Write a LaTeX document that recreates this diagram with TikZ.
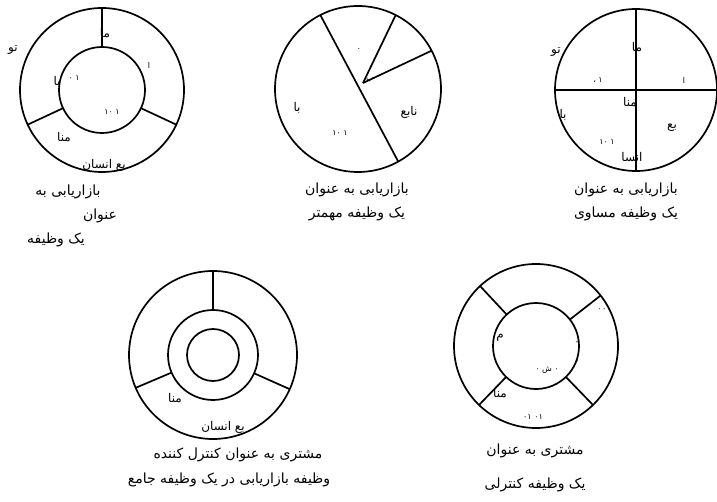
\documentclass[tikz,border=0pt]{standalone}
\usepackage{fontspec}
\newfontfamily\arabicfont[Script=Arabic]{DejaVu Sans}
\TeXXeTstate=1
\usetikzlibrary{positioning}
\usetikzlibrary{calc}
\newcommand{\fa}[1]{\beginR #1\endR}

\tikzset{
  wheel/.style={draw, line width=1.7pt},
  lbl/.style={inner sep=0pt, font=\arabicfont\fontsize{12}{13}\selectfont},
  bits/.style={inner sep=0pt, font=\arabicfont\fontsize{8}{9}\selectfont},
  caption/.style={inner sep=0pt, align=center, font=\arabicfont\fontsize{14}{24}\selectfont},
}

\begin{document}
\begin{tikzpicture}[x=1pt, y=1pt, line width=1.7pt]
    \useasboundingbox (0,0) rectangle (717,-502);

    % Centres of the five wheels
    \coordinate (c1) at (102,-90);
    \coordinate (c2) at (358,-89);
    \coordinate (c3) at (636,-90);
    \coordinate (c4) at (213,-355);
    \coordinate (c5) at (536,-346);

    % Wheel 1: ring with three parts
    \draw[wheel] (c1) circle[radius=82];
    \draw[wheel] (c1) circle[radius=43];
    \foreach \a in {90,-25,205} {
        \draw (c1) ++(\a:43) -- ++(\a:39);
    }
    \node[lbl] (t1) at (13,-50) {\fa{تو}};
    \node[lbl] (m1) at (105,-33) {\fa{ما}};
    \node[bits] (a1) at (149,-65) {\fa{ا}};
    \node[lbl] (b1) at (57,-82) {\fa{با}};
    \node[bits] (d1) at (74,-78) {\fa{١ ٠}};
    \node[bits] (e1) at (112,-112) {\fa{١ ١٠}};
    \node[lbl] (n1) at (64,-137) {\fa{منا}};
    \node[lbl] (s1) at (104,-165) {\fa{بع انسان}};
    \node[caption] (k1a) at (68,-192) {\fa{بازاریابی به}};
    \node[caption] (k1b) at (100,-216) {\fa{عنوان}};
    \node[caption] (k1c) at (56,-240) {\fa{یک وظیفه}};

    % Wheel 2: one big part
    \draw[wheel] (c2) circle[radius=83];
    \coordinate (h2) at (363,-83);
    \draw ($(c2)+(117:83)$) -- ($(c2)+(-61:83)$);
    \draw (h2) -- ($(c2)+(63:83)$);
    \draw (h2) -- ($(c2)+(27.5:83)$);
    \node[lbl] (b2) at (297,-108) {\fa{با}};
    \node[bits] (e2) at (340,-133) {\fa{١ ١٠}};
    \node[lbl] (n2) at (409,-112) {\fa{نابع}};
    \node[bits] (a2) at (359,-49) {.};
    \node[bits] (d2) at (370,-80) {\fa{ب}};
    \node[caption] (k2) at (357,-202) {\fa{بازاریابی به عنوان}\\\fa{یک وظیفه مهمتر}};

    % Wheel 3: four equal parts
    \draw[wheel] (c3) circle[radius=81];
    \draw ($(c3)+(180:81)$) -- ($(c3)+(0:81)$);
    \draw ($(c3)+(90:81)$) -- ($(c3)+(-90:81)$);
    \node[lbl] (t3) at (556,-52) {\fa{تو}};
    \node[lbl] (m3) at (637,-47) {\fa{ما}};
    \node[bits] (d3) at (598,-80) {\fa{١ ،}};
    \node[bits] (a3) at (684,-80) {\fa{ا}};
    \node[lbl] (n3) at (630,-102) {\fa{منا}};
    \node[lbl] (b3) at (563,-115) {\fa{با}};
    \node[lbl] (r3) at (672,-128) {\fa{بع}};
    \node[bits] (e3) at (607,-142) {\fa{١ ١٠}};
    \node[lbl] (s3) at (632,-157) {\fa{انسا}};
    \node[caption] (k3) at (626,-202) {\fa{بازاریابی به عنوان}\\\fa{یک وظیفه مساوی}};

    % Wheel 4: customer in the middle
    \draw[wheel] (c4) circle[radius=84];
    \draw[wheel] (c4) circle[radius=45];
    \draw[wheel] (c4) circle[radius=26];
    \foreach \a in {90,-24,203} {
        \draw (c4) ++(\a:45) -- ++(\a:39);
    }
    \node[lbl] (n4) at (175,-398) {\fa{منا}};
    \node[lbl] (s4) at (223,-427) {\fa{بع انسان}};
    \node[caption] (k4a) at (238,-455) {\fa{مشتری به عنوان کنترل کننده}};
    \node[caption] (k4b) at (229,-480) {\fa{وظیفه بازاریابی در یک وظیفه جامع}};

    % Wheel 5: four parts round the hub
    \draw[wheel] (c5) circle[radius=82];
    \draw[wheel] (c5) circle[radius=43];
    \foreach \a in {133,38,226,-46} {
        \draw (c5) ++(\a:43) -- ++(\a:39);
    }
    \node[lbl] (m5) at (500,-338) {\fa{م}};
    \node[bits] (z5) at (602,-310) {\fa{٠٠}};
    \node[bits] (p5) at (577,-343) {-};
    \node[bits] (q5) at (577,-362) {-};
    \node[bits] (w5) at (547,-370) {\fa{٠ ش ٠}};
    \node[lbl] (n5) at (500,-393) {\fa{منا}};
    \node[bits] (e5) at (533,-417) {\fa{٠١ ٠١}};
    \node[caption] (k5a) at (535,-451) {\fa{مشتری به عنوان}};
    \node[caption] (k5b) at (535,-485) {\fa{یک وظیفه کنترلی}};
\end{tikzpicture}
\end{document}
